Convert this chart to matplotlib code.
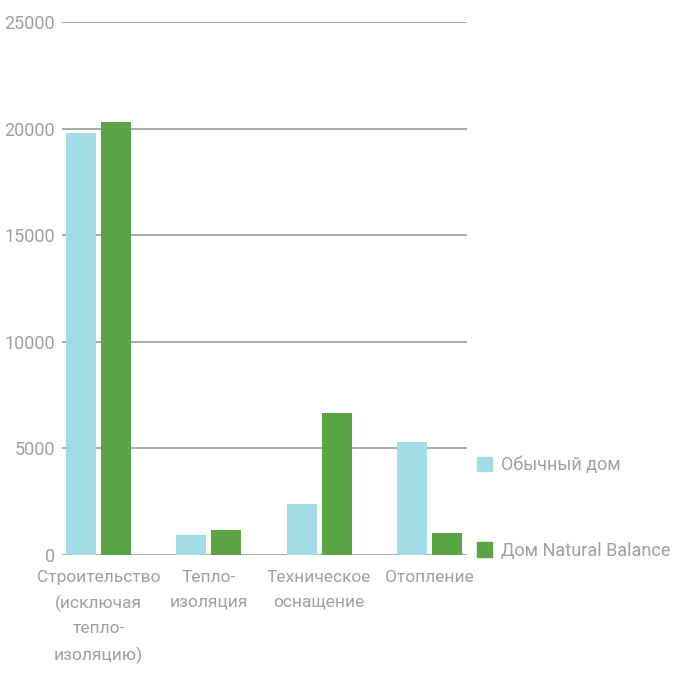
import numpy as np
import matplotlib.pyplot as plt
from matplotlib.patches import Patch

categories = ['Строительство\n(исключая\nтепло-\nизоляцию)', 'Тепло-\nизоляция',
              'Техническое\nоснащение', 'Отопление']
usual_house = [19800, 950, 2400, 5300]
nb_house = [20300, 1170, 6660, 1030]
series_names = ['Обычный дом', 'Дом Natural Balance']
yticks = [0, 5000, 10000, 15000, 20000, 25000]

c_light = '#a2dce5'
c_green = '#5ba446'
c_text = '#a0a0a0'

plt.rcParams['font.family'] = ['Roboto', 'DejaVu Sans']

fig = plt.figure(figsize=(6.76, 6.73), dpi=100)
ax = fig.add_axes([62/676, 1-555/673, 405/676, 533/673])

x = np.arange(len(categories))
w = 0.272
off = 0.159
ax.bar(x - off, usual_house, w, color=c_light, zorder=3)
ax.bar(x + off, nb_house, w, color=c_green, zorder=3)

ax.set_ylim(0, 25000)
ax.set_xlim(-0.331, 3.341)
ax.set_yticks(yticks)
ax.set_yticklabels([str(t) for t in yticks])
ax.grid(axis='y', color='#aaaaaa', linewidth=1.4, zorder=1)
ax.set_axisbelow(True)
for s in ax.spines.values():
    s.set_visible(False)
ax.tick_params(axis='both', length=0, colors=c_text, labelsize=12.5)
ax.tick_params(axis='y', labelsize=13, pad=5)
ax.tick_params(axis='x', pad=11)
ax.set_xticks(x)
ax.set_xticklabels(categories, linespacing=1.74)

handles = [Patch(color=c_light), Patch(color=c_green)]
leg = ax.legend(handles, series_names, loc='center left',
                bbox_to_anchor=(1.0, 0.088), frameon=False,
                handlelength=0.85, handleheight=0.85, handletextpad=0.5,
                labelspacing=3.75, fontsize=13, borderaxespad=0.15)
for t in leg.get_texts():
    t.set_color(c_text)

plt.savefig('out.png', dpi=100)
